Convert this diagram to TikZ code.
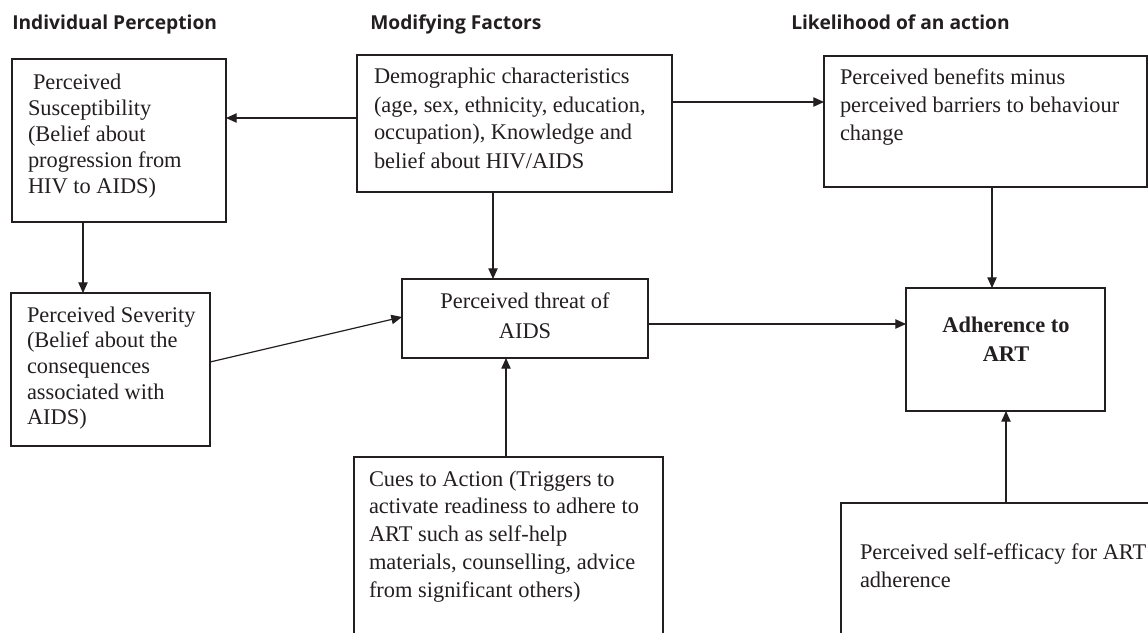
\documentclass[tikz,border=0pt]{standalone}
\usepackage{fontspec}
\setmainfont{Liberation Serif}
\newfontfamily\hdfont{Open Sans}
\usetikzlibrary{arrows.meta,fit}
\definecolor{ink}{HTML}{231F20}
\newcommand\firstline{\rule{0pt}{17pt}}
\begin{document}
\begin{tikzpicture}[x=0.75pt,y=-0.75pt,
  box/.style={draw=ink, line width=1.2pt, inner sep=0pt, outer sep=0pt},
  txt/.style={inner sep=0pt, outer sep=0pt, anchor=north west, align=left, text=ink},
  ctxt/.style={inner sep=0pt, outer sep=0pt, anchor=north, align=center, text=ink},
  hd/.style={inner sep=0pt, anchor=base west, text=ink, font=\hdfont\bfseries\fontsize{14.4}{16}\selectfont},
  arr/.style={draw=ink, line width=0.9pt, -{Triangle[length=8pt,width=7pt]}}
]
\useasboundingbox (0,0) rectangle (1148,632);
\fill[white] (0,0) rectangle (1148,632);
\clip (0,0) rectangle (1148,632);

% headers
\node[hd] (h1) at (12,29) {Individual Perception};
\node[hd] (h2) at (370,29) {Modifying Factors};
\node[hd] (h3) at (791,29) {Likelihood of an action};

% boxes
\node[box, fit={(12,59) (226,222)}] (sus) {};
\node[box, fit={(357,55) (672,192)}] (dem) {};
\node[box, fit={(824,56) (1147,187)}] (ben) {};
\node[box, fit={(11,293) (210,446)}] (sev) {};
\node[box, fit={(402,279) (648,358)}] (thr) {};
\node[box, fit={(906,288) (1105,411)}] (adh) {};
\node[box, fit={(354,457) (663,660)}] (cue) {};
\node[box, fit={(841,503) (1170,660)}] (eff) {};

% texts
\node[txt, font=\fontsize{16.8}{19.5}\selectfont] (tsus) at (28,66.33)
  {\firstline\hspace*{3.75pt}Perceived\\Susceptibility\\(Belief about\\progression from\\HIV to AIDS)};
\node[txt, font=\fontsize{16.8}{21}\selectfont] (tdem) at (374,61.33)
  {\firstline Demographic characteristics\\(age, sex, ethnicity, education,\\occupation), Knowledge and\\belief about HIV/AIDS};
\node[txt, font=\fontsize{16.8}{21}\selectfont] (tben) at (840,61.33)
  {\firstline Perceived benefits minus\\perceived barriers to behaviour\\change};
\node[txt, font=\fontsize{16.8}{19.3}\selectfont] (tsev) at (27,299.33)
  {\firstline Perceived Severity\\(Belief about the\\consequences\\associated with\\AIDS)};
\node[ctxt, font=\fontsize{16.8}{22.5}\selectfont] (tthr) at (525,285.33)
  {\firstline Perceived threat of\\AIDS};
\node[ctxt, font=\bfseries\fontsize{16.8}{21.75}\selectfont] (tadh) at (1006,309.33)
  {\firstline Adherence to\\ART};
\node[txt, font=\fontsize{16.8}{20.85}\selectfont] (tcue) at (369,463.33)
  {\firstline Cues to Action (Triggers to\\activate readiness to adhere to\\ART such as self-help\\materials, counselling, advice\\from significant others)};
\node[txt, font=\fontsize{16.8}{21}\selectfont] (teff) at (860,536.33)
  {\firstline Perceived self-efficacy for ART\\adherence};

% connectors
\draw[arr] (dem.west |- 0,118) -- (sus.east |- 0,118);
\draw[arr] (dem.east |- 0,102) -- (ben.west |- 0,102);
\draw[arr] (992,0 |- ben.south) -- (992,0 |- adh.north);
\draw[arr] (83,0 |- sus.south) -- (83,0 |- sev.north);
\draw[arr] (493,0 |- dem.south) -- (493,0 |- thr.north);
\draw[arr] (sev.east |- 0,362) -- (thr.west |- 0,317);
\draw[arr] (thr.east |- 0,324) -- (adh.west |- 0,324);
\draw[arr] (506,0 |- cue.north) -- (506,0 |- thr.south);
\draw[arr] (1006,0 |- eff.north) -- (1006,0 |- adh.south);
\end{tikzpicture}
\end{document}
